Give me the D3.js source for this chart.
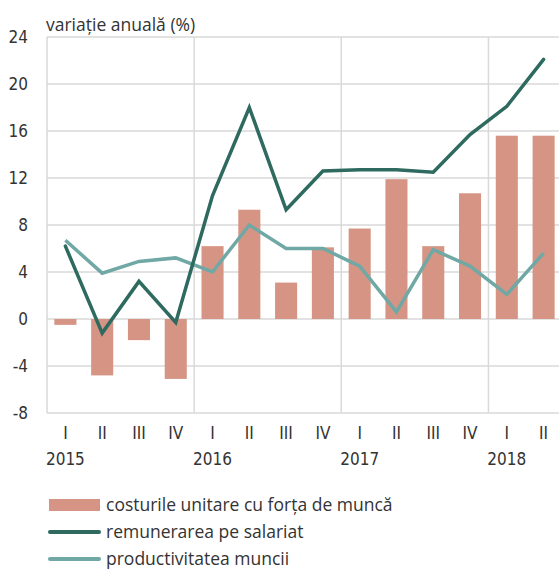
<!DOCTYPE html>
<html>
<head>
<meta charset="utf-8">
<script src="https://cdn.jsdelivr.net/npm/d3@7"></script>
<style>
  body { margin: 0; background: #fff; }
  svg text { fill: #333; }
</style>
</head>
<body>
<div id="chart"></div>
<script>
// quarters and years
const quarters = ["I", "II", "III", "IV", "I", "II", "III", "IV", "I", "II", "III", "IV", "I", "II"];
const years = ["2015", "2016", "2017", "2018"];
const yTicks = [-8, -4, 0, 4, 8, 12, 16, 20, 24];

// series (annual change, %)
const costuri = [-0.5, -4.8, -1.8, -5.1, 6.2, 9.3, 3.1, 6.1, 7.7, 11.9, 6.2, 10.7, 15.6, 15.6];
const remunerare = [6.2, -1.2, 3.2, -0.3, 10.5, 18.0, 9.3, 12.6, 12.7, 12.7, 12.5, 15.7, 18.1, 22.1];
const productivitate = [6.7, 3.9, 4.9, 5.2, 4.0, 8.0, 6.0, 6.0, 4.5, 0.6, 5.9, 4.5, 2.1, 5.6];

const seriesNames = ["costurile unitare cu forța de muncă", "remunerarea pe salariat", "productivitatea muncii"];
const colors = { bar: "#d69584", dark: "#2e6a5f", light: "#6fa8a4", grid: "#d9d9d9" };

const width = 559, height = 570;
const margin = { top: 37, right: -3, bottom: 157, left: 47 };
const tickFont = "'Liberation Sans Narrow', 'DejaVu Sans Condensed', sans-serif";
const textFont = "'Open Sans', sans-serif";

const svg = d3.select("#chart").append("svg")
    .attr("width", width)
    .attr("height", height);

const idx = quarters.map((q, i) => i);

const x = d3.scaleBand()
    .domain(idx)
    .range([margin.left, width - margin.right])
    .paddingInner(0.4)
    .paddingOuter(0.2);

const y = d3.scaleLinear()
    .domain([-8, 24])
    .range([height - margin.bottom, margin.top]);

const x0 = margin.left, x1 = width - margin.right;

// horizontal gridlines
svg.append("g")
    .selectAll("line")
    .data(yTicks)
    .join("line")
    .attr("x1", x0)
    .attr("x2", x1)
    .attr("y1", d => y(d))
    .attr("y2", d => y(d))
    .style("stroke", colors.grid)
    .style("stroke-width", 1.5);

// vertical lines at year boundaries
svg.append("g")
    .selectAll("line")
    .data(years.map((d, i) => i * 4))
    .join("line")
    .attr("x1", d => x0 + d * x.step())
    .attr("x2", d => x0 + d * x.step())
    .attr("y1", y(-8))
    .attr("y2", y(24))
    .style("stroke", colors.grid)
    .style("stroke-width", 1.5);

// y tick labels
svg.append("g")
    .selectAll("text")
    .data(yTicks)
    .join("text")
    .attr("x", 28)
    .attr("y", d => y(d))
    .attr("dy", "0.35em")
    .attr("text-anchor", "end")
    .style("font-family", tickFont)
    .style("font-size", "17px")
    .text(d => d);

// bars
svg.append("g")
    .selectAll("rect")
    .data(costuri)
    .join("rect")
    .attr("x", (d, i) => x(i))
    .attr("y", d => y(Math.max(0, d)))
    .attr("width", x.bandwidth())
    .attr("height", d => Math.abs(y(d) - y(0)))
    .style("fill", colors.bar);

const line = d3.line()
    .x((d, i) => x(i) + x.bandwidth() / 2)
    .y(d => y(d));

svg.append("path")
    .datum(productivitate)
    .attr("d", line)
    .style("fill", "none")
    .style("stroke", colors.light)
    .style("stroke-width", 3.5);

svg.append("path")
    .datum(remunerare)
    .attr("d", line)
    .style("fill", "none")
    .style("stroke", colors.dark)
    .style("stroke-width", 3.5)
    .style("stroke-linecap", "round");

// quarter labels
svg.append("g")
    .selectAll("text")
    .data(quarters)
    .join("text")
    .attr("x", (d, i) => x(i) + x.bandwidth() / 2)
    .attr("y", 439)
    .attr("text-anchor", "middle")
    .style("font-family", tickFont)
    .style("font-size", "17px")
    .text(d => d);

// year labels
svg.append("g")
    .selectAll("text")
    .data(years)
    .join("text")
    .attr("x", (d, i) => x(i * 4) + x.bandwidth() / 2)
    .attr("y", 465)
    .attr("text-anchor", "middle")
    .style("font-family", tickFont)
    .style("font-size", "17px")
    .text(d => d);

// title
svg.append("text")
    .attr("x", 46)
    .attr("y", 31)
    .style("font-family", textFont)
    .style("font-size", "17.5px")
    .text("variație anuală (%)");

// legend
const legend = svg.append("g").attr("transform", "translate(49, 505)");
legend.append("rect")
    .attr("x", 0).attr("y", -6)
    .attr("width", 51).attr("height", 12)
    .style("fill", colors.bar);
legend.append("line")
    .attr("x1", 1).attr("x2", 50).attr("y1", 27).attr("y2", 27)
    .style("stroke", colors.dark).style("stroke-width", 4).style("stroke-linecap", "round");
legend.append("line")
    .attr("x1", 1).attr("x2", 50).attr("y1", 54).attr("y2", 54)
    .style("stroke", colors.light).style("stroke-width", 4).style("stroke-linecap", "round");
legend.selectAll("text.leg")
    .data(seriesNames)
    .join("text")
    .attr("class", "leg")
    .attr("x", 57)
    .attr("y", (d, i) => i * 27)
    .attr("dy", "0.35em")
    .style("font-family", textFont)
    .style("font-size", "17.5px")
    .text(d => d);
</script>
</body>
</html>
